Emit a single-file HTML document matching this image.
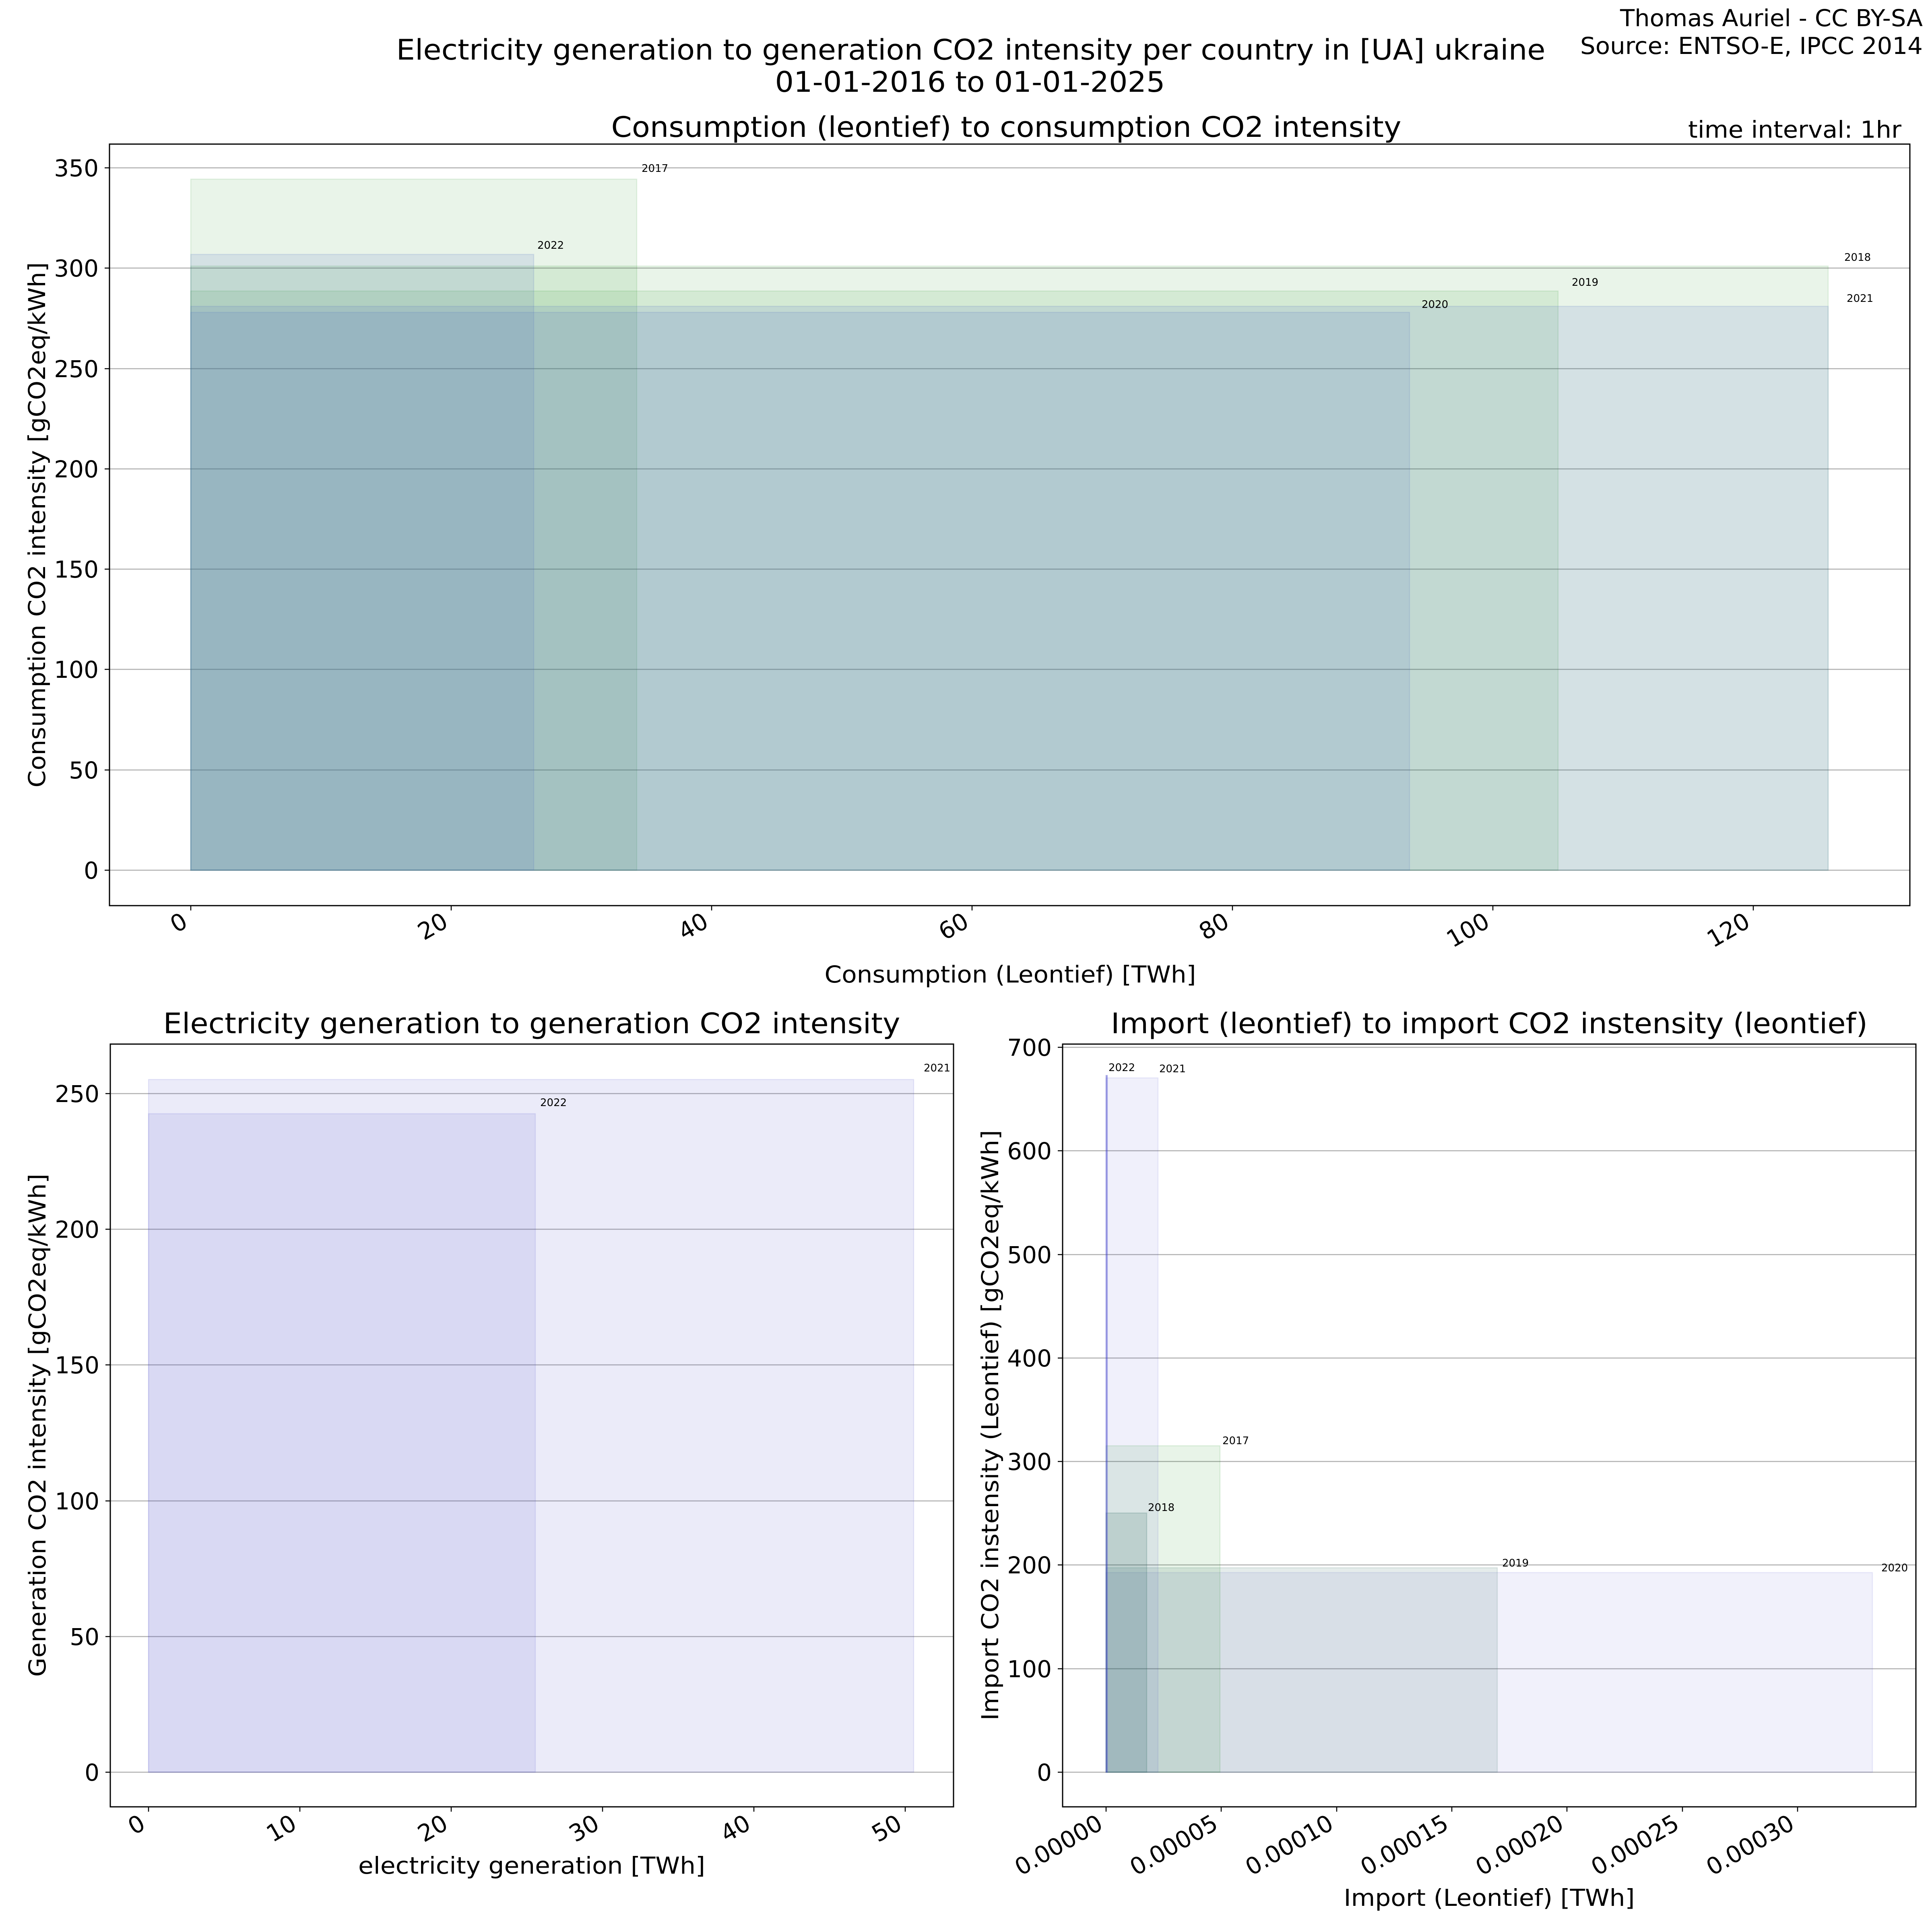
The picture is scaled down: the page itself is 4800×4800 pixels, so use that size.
<!DOCTYPE html>
<html><head><meta charset="utf-8"><style>html,body{margin:0;padding:0;background:#fff}svg{display:block}text{font-family:"DejaVu Sans","Liberation Sans",sans-serif;fill:#000}</style></head>
<body>
<svg width="4800" height="4800" viewBox="0 0 4800 4800" xmlns="http://www.w3.org/2000/svg">
<rect width="4800" height="4800" fill="#fff"/>
<text x="2412" y="148" font-size="70" text-anchor="middle" textLength="2855" lengthAdjust="spacingAndGlyphs">Electricity generation to generation CO2 intensity per country in [UA] ukraine</text>
<text x="2410" y="228" font-size="70" text-anchor="middle" textLength="969" lengthAdjust="spacingAndGlyphs">01-01-2016 to 01-01-2025</text>
<text x="4777" y="65" font-size="58" text-anchor="end" textLength="752" lengthAdjust="spacingAndGlyphs">Thomas Auriel - CC BY-SA</text>
<text x="4777" y="134" font-size="58" text-anchor="end" textLength="851" lengthAdjust="spacingAndGlyphs">Source: ENTSO-E, IPCC 2014</text>

<!-- TOP CHART -->
<text x="2500" y="340" font-size="70" text-anchor="middle" textLength="1963" lengthAdjust="spacingAndGlyphs">Consumption (leontief) to consumption CO2 intensity</text>
<text x="4724" y="342" font-size="58" text-anchor="end" textLength="530" lengthAdjust="spacingAndGlyphs">time interval: 1hr</text>
<g stroke="#b0b0b0" stroke-width="2.5">
<line x1="272" x2="4745" y1="2162" y2="2162"/><line x1="272" x2="4745" y1="1913" y2="1913"/><line x1="272" x2="4745" y1="1663" y2="1663"/><line x1="272" x2="4745" y1="1414" y2="1414"/><line x1="272" x2="4745" y1="1165" y2="1165"/><line x1="272" x2="4745" y1="916" y2="916"/><line x1="272" x2="4745" y1="666" y2="666"/><line x1="272" x2="4745" y1="417" y2="417"/>
</g>
<g stroke-width="2.5">
<rect x="474" y="445" width="1108" height="1717" fill="rgba(0,128,0,0.085)" stroke="rgba(0,128,0,0.11)"/>
<rect x="474" y="661" width="4068" height="1501" fill="rgba(0,128,0,0.085)" stroke="rgba(0,128,0,0.11)"/>
<rect x="474" y="723" width="3397" height="1439" fill="rgba(0,128,0,0.085)" stroke="rgba(0,128,0,0.11)"/>
<rect x="474" y="776" width="3028" height="1386" fill="rgba(85,115,195,0.14)" stroke="rgba(85,115,195,0.17)"/>
<rect x="474" y="761" width="4068" height="1401" fill="rgba(85,115,195,0.14)" stroke="rgba(85,115,195,0.17)"/>
<rect x="474" y="632" width="852" height="1530" fill="rgba(85,115,195,0.14)" stroke="rgba(85,115,195,0.17)"/>
</g>
<g font-size="26">
<text x="1594" y="427">2017</text><text x="1335" y="618">2022</text><text x="4582" y="648">2018</text><text x="3905" y="710">2019</text><text x="3532" y="765">2020</text><text x="4588" y="750">2021</text>
</g>
<rect x="272" y="358" width="4473" height="1892" fill="none" stroke="#000" stroke-width="3"/>
<g stroke="#000" stroke-width="2.5">
<line x1="260" x2="272" y1="2162" y2="2162"/><line x1="260" x2="272" y1="1913" y2="1913"/><line x1="260" x2="272" y1="1663" y2="1663"/><line x1="260" x2="272" y1="1414" y2="1414"/><line x1="260" x2="272" y1="1165" y2="1165"/><line x1="260" x2="272" y1="916" y2="916"/><line x1="260" x2="272" y1="666" y2="666"/><line x1="260" x2="272" y1="417" y2="417"/>
<line x1="474" x2="474" y1="2250" y2="2262"/><line x1="1121" x2="1121" y1="2250" y2="2262"/><line x1="1768" x2="1768" y1="2250" y2="2262"/><line x1="2415" x2="2415" y1="2250" y2="2262"/><line x1="3062" x2="3062" y1="2250" y2="2262"/><line x1="3709" x2="3709" y1="2250" y2="2262"/><line x1="4356" x2="4356" y1="2250" y2="2262"/>
</g>
<g font-size="58" text-anchor="end">
<text x="245" y="2183">0</text><text x="245" y="1934">50</text><text x="245" y="1684">100</text><text x="245" y="1435">150</text><text x="245" y="1186">200</text><text x="245" y="937">250</text><text x="245" y="687">300</text><text x="245" y="438">350</text>
</g>
<g font-size="58" text-anchor="end">
<text transform="translate(449,2264) rotate(-30)" y="42">0</text>
<text transform="translate(1096,2264) rotate(-30)" y="42">20</text>
<text transform="translate(1743,2264) rotate(-30)" y="42">40</text>
<text transform="translate(2390,2264) rotate(-30)" y="42">60</text>
<text transform="translate(3037,2264) rotate(-30)" y="42">80</text>
<text transform="translate(3684,2264) rotate(-30)" y="42">100</text>
<text transform="translate(4331,2264) rotate(-30)" y="42">120</text>
</g>
<text x="2510" y="2441" font-size="58" text-anchor="middle" textLength="923" lengthAdjust="spacingAndGlyphs">Consumption (Leontief) [TWh]</text>
<text transform="translate(112,1304) rotate(-90)" font-size="58" text-anchor="middle" textLength="1305" lengthAdjust="spacingAndGlyphs">Consumption CO2 intensity [gCO2eq/kWh]</text>

<!-- BOTTOM LEFT -->
<text x="1321" y="2567" font-size="70" text-anchor="middle" textLength="1831" lengthAdjust="spacingAndGlyphs">Electricity generation to generation CO2 intensity</text>
<g stroke="#b0b0b0" stroke-width="2.5">
<line x1="274" x2="2369" y1="4403" y2="4403"/><line x1="274" x2="2369" y1="4066" y2="4066"/><line x1="274" x2="2369" y1="3729" y2="3729"/><line x1="274" x2="2369" y1="3391" y2="3391"/><line x1="274" x2="2369" y1="3054" y2="3054"/><line x1="274" x2="2369" y1="2717" y2="2717"/>
</g>
<g stroke-width="2.5">
<rect x="369" y="2682" width="1901" height="1721" fill="rgba(60,60,200,0.1)" stroke="rgba(60,60,200,0.12)"/>
<rect x="369" y="2767" width="961" height="1636" fill="rgba(60,60,200,0.1)" stroke="rgba(60,60,200,0.12)"/>
</g>
<g font-size="26"><text x="1342" y="2748">2022</text><text x="2295" y="2662">2021</text></g>
<rect x="274" y="2594" width="2095" height="1895" fill="none" stroke="#000" stroke-width="3"/>
<g stroke="#000" stroke-width="2.5">
<line x1="262" x2="274" y1="4403" y2="4403"/><line x1="262" x2="274" y1="4066" y2="4066"/><line x1="262" x2="274" y1="3729" y2="3729"/><line x1="262" x2="274" y1="3391" y2="3391"/><line x1="262" x2="274" y1="3054" y2="3054"/><line x1="262" x2="274" y1="2717" y2="2717"/>
<line x1="369" x2="369" y1="4489" y2="4501"/><line x1="745" x2="745" y1="4489" y2="4501"/><line x1="1121" x2="1121" y1="4489" y2="4501"/><line x1="1497" x2="1497" y1="4489" y2="4501"/><line x1="1873" x2="1873" y1="4489" y2="4501"/><line x1="2249" x2="2249" y1="4489" y2="4501"/>
</g>
<g font-size="58" text-anchor="end">
<text x="247" y="4424">0</text><text x="247" y="4087">50</text><text x="247" y="3750">100</text><text x="247" y="3412">150</text><text x="247" y="3075">200</text><text x="247" y="2738">250</text>
</g>
<g font-size="58" text-anchor="end">
<text transform="translate(344,4505) rotate(-30)" y="42">0</text>
<text transform="translate(720,4505) rotate(-30)" y="42">10</text>
<text transform="translate(1096,4505) rotate(-30)" y="42">20</text>
<text transform="translate(1472,4505) rotate(-30)" y="42">30</text>
<text transform="translate(1848,4505) rotate(-30)" y="42">40</text>
<text transform="translate(2224,4505) rotate(-30)" y="42">50</text>
</g>
<text x="1321" y="4655" font-size="58" text-anchor="middle" textLength="862" lengthAdjust="spacingAndGlyphs">electricity generation [TWh]</text>
<text transform="translate(113,3541) rotate(-90)" font-size="58" text-anchor="middle" textLength="1250" lengthAdjust="spacingAndGlyphs">Generation CO2 intensity [gCO2eq/kWh]</text>

<!-- BOTTOM RIGHT -->
<text x="3700" y="2567" font-size="70" text-anchor="middle" textLength="1880" lengthAdjust="spacingAndGlyphs">Import (leontief) to import CO2 instensity (leontief)</text>
<g stroke="#b0b0b0" stroke-width="2.5">
<line x1="2640" x2="4760" y1="4403" y2="4403"/><line x1="2640" x2="4760" y1="4146" y2="4146"/><line x1="2640" x2="4760" y1="3888" y2="3888"/><line x1="2640" x2="4760" y1="3631" y2="3631"/><line x1="2640" x2="4760" y1="3374" y2="3374"/><line x1="2640" x2="4760" y1="3117" y2="3117"/><line x1="2640" x2="4760" y1="2859" y2="2859"/><line x1="2640" x2="4760" y1="2602" y2="2602"/>
</g>
<g stroke-width="2.5">
<rect x="2748" y="3907" width="1904" height="496" fill="rgba(60,60,200,0.07)" stroke="rgba(60,60,200,0.1)"/>
<rect x="2748" y="3895" width="972" height="508" fill="rgba(40,100,90,0.12)" stroke="rgba(40,100,90,0.14)"/>
<rect x="2748" y="3759" width="101" height="644" fill="rgba(40,100,90,0.16)" stroke="rgba(40,100,90,0.2)"/>
<rect x="2748" y="3592" width="283" height="811" fill="rgba(0,128,0,0.09)" stroke="rgba(0,128,0,0.12)"/>
<rect x="2748" y="2678" width="129" height="1725" fill="rgba(60,60,200,0.08)" stroke="rgba(60,60,200,0.1)"/>
<rect x="2748" y="2672" width="3" height="1731" fill="rgba(60,60,200,0.3)" stroke="rgba(60,60,200,0.35)"/>
</g>
<g font-size="26">
<text x="2754" y="2661">2022</text><text x="2880" y="2664">2021</text><text x="3037" y="3588">2017</text><text x="2852" y="3754">2018</text><text x="3732" y="3892">2019</text><text x="4674" y="3904">2020</text>
</g>
<rect x="2640" y="2594" width="2120" height="1895" fill="none" stroke="#000" stroke-width="3"/>
<g stroke="#000" stroke-width="2.5">
<line x1="2628" x2="2640" y1="4403" y2="4403"/><line x1="2628" x2="2640" y1="4146" y2="4146"/><line x1="2628" x2="2640" y1="3888" y2="3888"/><line x1="2628" x2="2640" y1="3631" y2="3631"/><line x1="2628" x2="2640" y1="3374" y2="3374"/><line x1="2628" x2="2640" y1="3117" y2="3117"/><line x1="2628" x2="2640" y1="2859" y2="2859"/><line x1="2628" x2="2640" y1="2602" y2="2602"/>
<line x1="2748" x2="2748" y1="4489" y2="4501"/><line x1="3034" x2="3034" y1="4489" y2="4501"/><line x1="3321" x2="3321" y1="4489" y2="4501"/><line x1="3607" x2="3607" y1="4489" y2="4501"/><line x1="3893" x2="3893" y1="4489" y2="4501"/><line x1="4180" x2="4180" y1="4489" y2="4501"/><line x1="4466" x2="4466" y1="4489" y2="4501"/>
</g>
<g font-size="58" text-anchor="end">
<text x="2613" y="4424">0</text><text x="2613" y="4167">100</text><text x="2613" y="3909">200</text><text x="2613" y="3652">300</text><text x="2613" y="3395">400</text><text x="2613" y="3138">500</text><text x="2613" y="2880">600</text><text x="2613" y="2623">700</text>
</g>
<g font-size="58" text-anchor="end">
<text transform="translate(2723,4505) rotate(-30)" y="42">0.00000</text>
<text transform="translate(3009,4505) rotate(-30)" y="42">0.00005</text>
<text transform="translate(3296,4505) rotate(-30)" y="42">0.00010</text>
<text transform="translate(3582,4505) rotate(-30)" y="42">0.00015</text>
<text transform="translate(3868,4505) rotate(-30)" y="42">0.00020</text>
<text transform="translate(4155,4505) rotate(-30)" y="42">0.00025</text>
<text transform="translate(4441,4505) rotate(-30)" y="42">0.00030</text>
</g>
<text x="3700" y="4735" font-size="58" text-anchor="middle" textLength="723" lengthAdjust="spacingAndGlyphs">Import (Leontief) [TWh]</text>
<text transform="translate(2480,3541) rotate(-90)" font-size="58" text-anchor="middle" textLength="1467" lengthAdjust="spacingAndGlyphs">Import CO2 instensity (Leontief) [gCO2eq/kWh]</text>
</svg>
</body></html>
